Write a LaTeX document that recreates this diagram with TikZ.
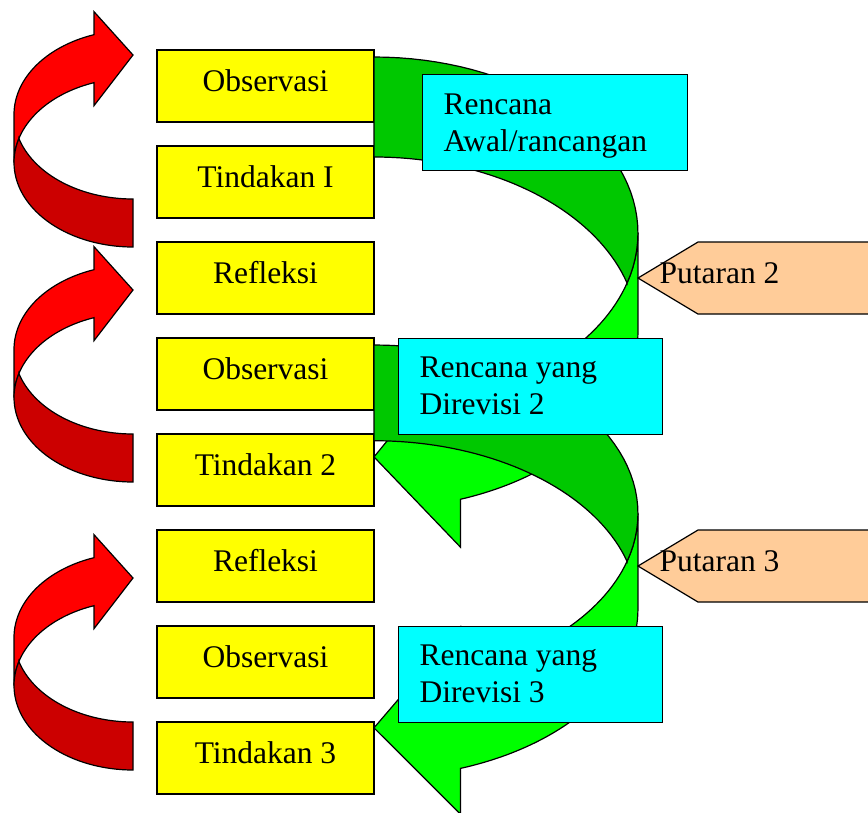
\documentclass[tikz,border=0pt]{standalone}
\usepackage{fontspec}
\setmainfont{Liberation Serif}
\definecolor{redfront}{HTML}{FF0000}
\definecolor{redback}{HTML}{CC0000}
\definecolor{greenfront}{HTML}{00FF00}
\definecolor{greenback}{HTML}{00C800}
\definecolor{boxyellow}{HTML}{FFFF00}
\definecolor{boxcyan}{HTML}{00FFFF}
\definecolor{peach}{HTML}{FFCC99}
\begin{document}
\begin{tikzpicture}[x=1pt,y=-1pt,line width=1.2pt,
  yelbox/.style={draw=black, fill=boxyellow, minimum width=217pt, minimum height=72pt,
    inner sep=0pt, text height=21pt, text depth=11pt, font=\fontsize{31.5}{37}\selectfont},
  cyanbox/.style={draw=black, fill=boxcyan, minimum height=96pt, inner sep=0pt, anchor=north west},
  cyantext/.style={anchor=north west, inner sep=0pt, align=left, font=\fontsize{31.5}{37}\selectfont},
  puttext/.style={anchor=base west, inner sep=0pt, font=\fontsize{31.5}{37}\selectfont},
  pentagon/.style={draw=black, fill=peach},
  pics/curvedarrow/.style 2 args={code={
    \path[draw=black, fill=#1] (-119,-132.5)
      -- plot[domain=180:250.87, samples=40, variable=\t] ({119*cos(\t)},{-132.5+84.5*sin(\t)})
      -- (-39,-235.34) -- (0,-192) -- (-39,-141.34)
      -- plot[domain=250.87:180, samples=40, variable=\t] ({119*cos(\t)},{-84.5+84.5*sin(\t)})
      -- cycle;
    \path[draw=black, fill=#2] (0,0)
      -- plot[domain=90:196.5, samples=40, variable=\t] ({119*cos(\t)},{-84.5+84.5*sin(\t)})
      -- plot[domain=163.5:90, samples=40, variable=\t] ({119*cos(\t)},{-132.5+84.5*sin(\t)})
      -- cycle;
  }}
]
\useasboundingbox (0,0) rectangle (868,812);
\clip (0,0) rectangle (868,812);

% red curved arrows
\pic (ra1) at (133,247) {curvedarrow={redfront}{redback}};
\pic (ra2) at (133,482) {curvedarrow={redfront}{redback}};
\pic (ra3) at (133,770) {curvedarrow={redfront}{redback}};

% yellow boxes
\node[yelbox] (obs1) at (265.5,86)  {Observasi};
\node[yelbox] (tin1) at (265.5,182) {Tindakan I};
\node[yelbox] (ref1) at (265.5,278) {Refleksi};
\node[yelbox] (obs2) at (265.5,374) {Observasi};
\node[yelbox] (tin2) at (265.5,470) {Tindakan 2};
\node[yelbox] (ref2) at (265.5,566) {Refleksi};
\node[yelbox] (obs3) at (265.5,662) {Observasi};
\node[yelbox] (tin3) at (265.5,758) {Tindakan 3};

% green curved arrows
\pic[xscale=-2.218, yscale=-2.083] (ga1) at (374,57) {curvedarrow={greenfront}{greenback}};
\pic[xscale=-2.218, yscale=-1.994] (ga2) at (374,345) {curvedarrow={greenfront}{greenback}};

% cyan boxes
\node[cyanbox, minimum width=265pt] (plan1) at (421.7,74) {};
\node[cyantext] (plan1t) at (443,89) {\rule{0pt}{25pt}Rencana\\Awal/rancangan};
\node[cyanbox, minimum width=264pt] (plan2) at (398,338) {};
\node[cyantext] (plan2t) at (419,351.7) {\rule{0pt}{25pt}Rencana yang\\Direvisi 2};
\node[cyanbox, minimum width=264pt] (plan3) at (398,626) {};
\node[cyantext] (plan3t) at (419,640) {\rule{0pt}{25pt}Rencana yang\\Direvisi 3};

% Putaran labels
\path[pentagon] (638,278) -- (698,242) -- (900,242) -- (900,314) -- (698,314) -- cycle;
\node[puttext] (put2) at (659,283) {Putaran 2};
\path[pentagon] (638,566) -- (698,530) -- (900,530) -- (900,602) -- (698,602) -- cycle;
\node[puttext] (put3) at (659,571) {Putaran 3};
\end{tikzpicture}
\end{document}
